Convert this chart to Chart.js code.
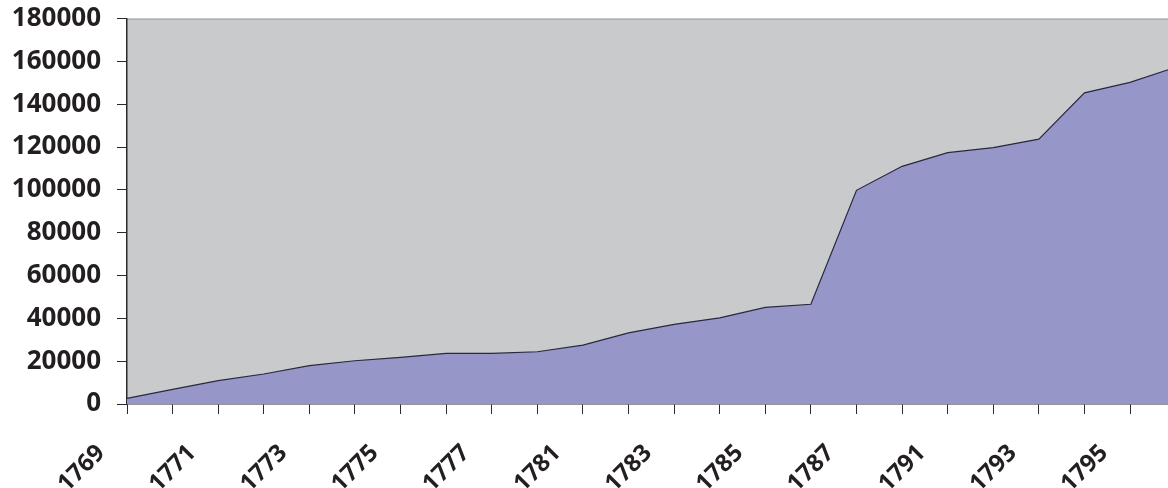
<!DOCTYPE html>
<html>
<head>
<meta charset="utf-8">
<script src="https://cdn.jsdelivr.net/npm/chart.js@4/dist/chart.umd.min.js"></script>
<style>
  html, body { margin: 0; padding: 0; overflow: hidden; background: #fff; }
  #wrap { position: absolute; left: 0; top: -13px; width: 1221px; height: 501px; }
</style>
</head>
<body>
<div id="wrap"><canvas id="chart"></canvas></div>
<script>
const years = ['1769', '1770', '1771', '1772', '1773', '1774', '1775', '1776', '1777', '1779',
  '1781', '1782', '1783', '1784', '1785', '1786', '1787', '1789', '1791', '1792',
  '1793', '1794', '1795', '1796'];
const members = [2600, 6800, 10900, 14000, 17900, 20200, 21800, 23600, 23600, 24400,
  27500, 33200, 37200, 40200, 45100, 46600, 99800, 111000, 117400, 119700,
  123700, 145300, 150200, 157300];
const yTicksMax = 180000;
const yStep = 20000;

// grey plot area behind the series
const plotBg = {
  id: 'plotBg',
  beforeDraw(chart) {
    const { ctx, chartArea: a } = chart;
    ctx.save();
    ctx.fillStyle = '#c9cacc';
    ctx.fillRect(a.left, a.top, a.right - a.left, a.bottom - a.top);
    ctx.strokeStyle = '#9a9a9a';
    ctx.lineWidth = 1;
    ctx.beginPath();
    ctx.moveTo(a.left, a.top + 0.5);
    ctx.lineTo(a.right, a.top + 0.5);
    ctx.stroke();
    ctx.restore();
  }
};

const ctx = document.getElementById('chart').getContext('2d');
new Chart(ctx, {
  type: 'line',
  data: {
    labels: years,
    datasets: [{
      data: members,
      fill: 'origin',
      backgroundColor: '#9696c9',
      borderColor: '#2b2b2b',
      borderWidth: 1.2,
      pointRadius: 0,
      tension: 0
    }]
  },
  options: {
    responsive: true,
    maintainAspectRatio: false,
    animation: false,
    layout: { autoPadding: false, padding: { top: 6, right: 5, left: 0, bottom: 0 } },
    plugins: { legend: { display: false }, tooltip: { enabled: false } },
    scales: {
      x: {
        offset: false,
        afterFit: (s) => { s.height = 84; },
        border: { color: '#2b2b2b', width: 1.5 },
        grid: { drawOnChartArea: false, color: '#2b2b2b', tickLength: 10 },
        ticks: {
          autoSkip: false,
          minRotation: 45,
          maxRotation: 45,
          padding: 25,
          labelOffset: -26,
          color: '#231f20',
          font: { family: 'Open Sans', weight: 'bold', size: 24 },
          callback: function (v, i) { return i % 2 === 0 ? this.getLabelForValue(v) : ''; }
        }
      },
      y: {
        min: 0,
        max: yTicksMax,
        afterFit: (s) => { s.width = 127; },
        border: { color: '#2b2b2b', width: 1.5 },
        grid: { drawOnChartArea: false, color: '#2b2b2b', tickLength: 10 },
        ticks: {
          stepSize: yStep,
          padding: 16,
          color: '#231f20',
          font: { family: 'Open Sans', weight: 'bold', size: 26 },
          callback: (v) => String(v)
        }
      }
    }
  },
  plugins: [plotBg]
});
</script>
</body>
</html>
